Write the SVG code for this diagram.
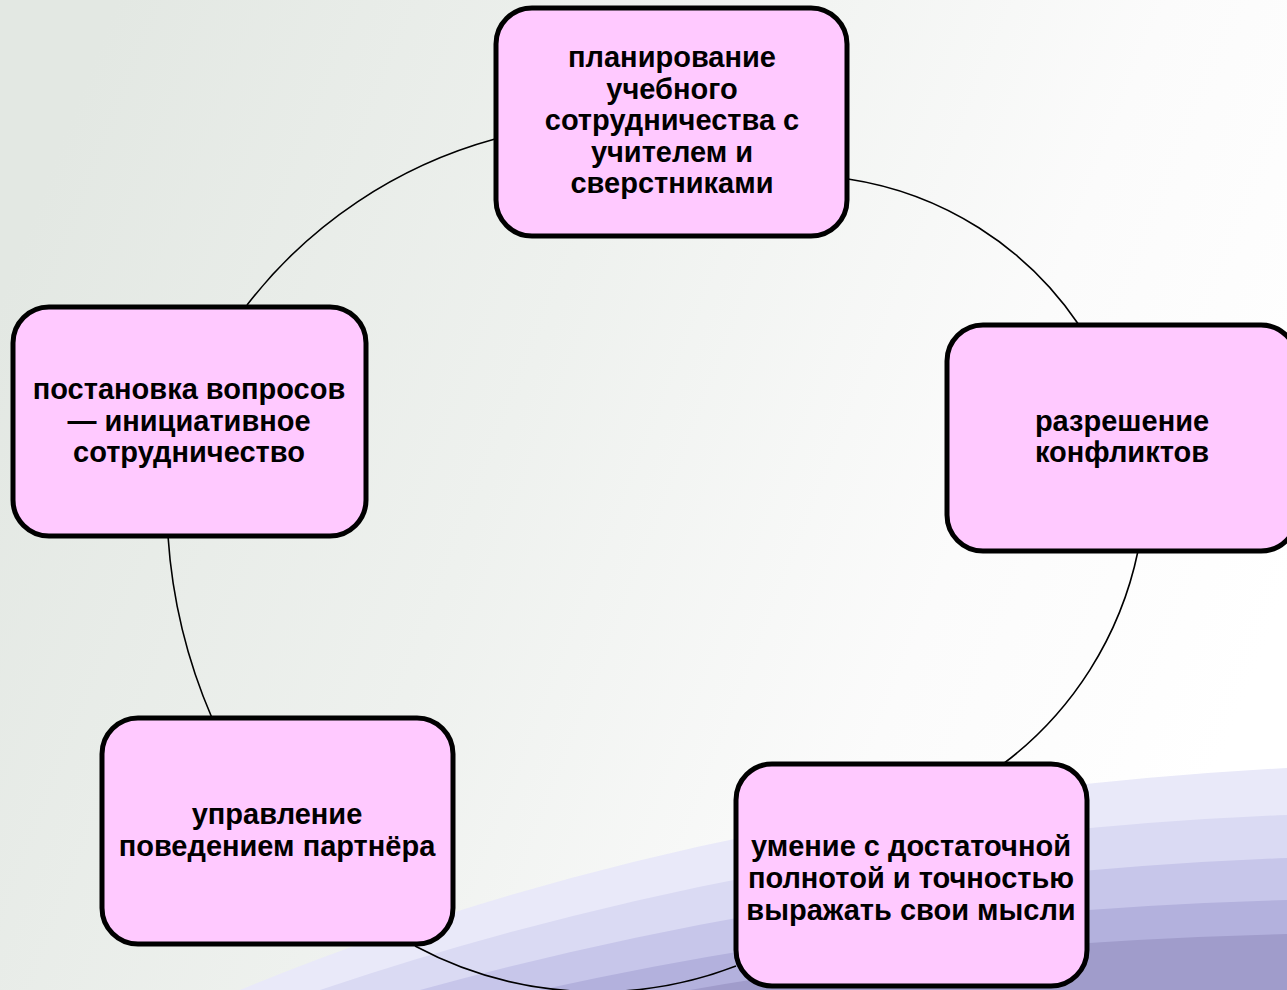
<svg xmlns="http://www.w3.org/2000/svg" width="1287" height="990" viewBox="0 0 1287 990">
<defs>
<linearGradient id="bg" x1="0" y1="0.3" x2="1" y2="0.6">
<stop offset="0" stop-color="#E3E8E3"/>
<stop offset="0.4" stop-color="#EEF1EE"/>
<stop offset="0.75" stop-color="#FBFBFB"/>
<stop offset="1" stop-color="#FFFFFF"/>
</linearGradient>
<style>
.box{fill:#FFC9FF;stroke:#000;stroke-width:5}
.lbl{font-family:"Liberation Sans",Arial,sans-serif;font-weight:bold;font-size:29px;fill:#000;text-anchor:middle}
.con{fill:none;stroke:#000;stroke-width:1.6}
</style>
</defs>
<rect x="0" y="0" width="1287" height="990" fill="url(#bg)"/>
<g id="swoosh">
<path d="M240,990 Q700,800 1287,768 L1287,990 Z" fill="#E9E9F9"/>
<path d="M320,990 Q780,835 1287,815 L1287,990 Z" fill="#DADAF3"/>
<path d="M420,990 Q840,875 1287,858 L1287,990 Z" fill="#C7C6EA"/>
<path d="M540,990 Q900,910 1287,900 L1287,990 Z" fill="#B3B1DD"/>
<path d="M690,990 Q960,942 1287,934 L1287,990 Z" fill="#A09CCB"/>
</g>
<g id="connectors">
<path class="con" d="M247,305 A470,470 0 0 1 495,139"/>
<path class="con" d="M848,179 A340,340 0 0 1 1079,325"/>
<path class="con" d="M1138,551 A357,357 0 0 1 1003,764"/>
<path class="con" d="M736,966 A386,386 0 0 1 415,946"/>
<path class="con" d="M212,718 A550,550 0 0 1 168,536"/>
</g>
<g id="node-top">
<rect class="box" x="496" y="8" width="351" height="228" rx="36"/>
<text class="lbl" x="672" y="67">планирование</text>
<text class="lbl" x="672" y="98.5">учебного</text>
<text class="lbl" x="672" y="130">сотрудничества с</text>
<text class="lbl" x="672" y="161.5">учителем и</text>
<text class="lbl" x="672" y="193">сверстниками</text>
</g>
<g id="node-right">
<rect class="box" x="947" y="325" width="350" height="226" rx="36"/>
<text class="lbl" x="1122" y="431">разрешение</text>
<text class="lbl" x="1122" y="462">конфликтов</text>
</g>
<g id="node-bottom-right">
<rect class="box" x="736" y="764" width="351" height="222" rx="36"/>
<text class="lbl" x="911" y="856">умение с достаточной</text>
<text class="lbl" x="911" y="888">полнотой и точностью</text>
<text class="lbl" x="911" y="920">выражать свои мысли</text>
</g>
<g id="node-bottom-left">
<rect class="box" x="102" y="718" width="351" height="226" rx="36"/>
<text class="lbl" x="277" y="824">управление</text>
<text class="lbl" x="277" y="856">поведением партнёра</text>
</g>
<g id="node-left">
<rect class="box" x="13" y="307" width="353" height="229" rx="36"/>
<text class="lbl" x="189" y="399">постановка вопросов</text>
<text class="lbl" x="189" y="431">— инициативное</text>
<text class="lbl" x="189" y="462">сотрудничество</text>
</g>
</svg>
